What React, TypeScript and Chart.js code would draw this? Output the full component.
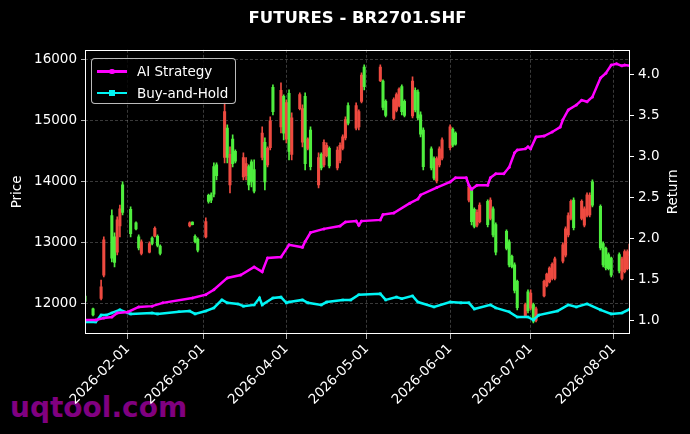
import React, { useEffect, useRef } from 'react';
import { Chart, registerables } from 'chart.js';

Chart.register(...registerables);

const TITLE = 'FUTURES - BR2701.SHF';
const STRATEGY_LABEL = 'AI Strategy';
const HOLD_LABEL = 'Buy-and-Hold';
const PRICE_TITLE = 'Price';
const RETURN_TITLE = 'Return';
const WATERMARK = 'uqtool.com';

// Candles
const candleDates = [
  '2026-01-16', '2026-01-19', '2026-01-22', '2026-01-23', '2026-01-26', '2026-01-27', '2026-01-28', '2026-01-29', '2026-01-30',
  '2026-02-02', '2026-02-04', '2026-02-05', '2026-02-06', '2026-02-09', '2026-02-10', '2026-02-11', '2026-02-12', '2026-02-13',
  '2026-02-24', '2026-02-25', '2026-02-26', '2026-02-27',
  '2026-03-02', '2026-03-03', '2026-03-04', '2026-03-05', '2026-03-06', '2026-03-09', '2026-03-10', '2026-03-11', '2026-03-12', '2026-03-13',
  '2026-03-16', '2026-03-17', '2026-03-18', '2026-03-19', '2026-03-20', '2026-03-23', '2026-03-24', '2026-03-25', '2026-03-26', '2026-03-27',
  '2026-03-30', '2026-03-31', '2026-04-01', '2026-04-02', '2026-04-03', '2026-04-06', '2026-04-07', '2026-04-08', '2026-04-09', '2026-04-10',
  '2026-04-13', '2026-04-14', '2026-04-15', '2026-04-16', '2026-04-17', '2026-04-20', '2026-04-21', '2026-04-22', '2026-04-23', '2026-04-24',
  '2026-04-27', '2026-04-28', '2026-04-29', '2026-04-30', '2026-05-06', '2026-05-07', '2026-05-08',
  '2026-05-11', '2026-05-12', '2026-05-13', '2026-05-14', '2026-05-15', '2026-05-18', '2026-05-19', '2026-05-20', '2026-05-21', '2026-05-22',
  '2026-05-25', '2026-05-26', '2026-05-27', '2026-05-28', '2026-05-29', '2026-06-01', '2026-06-02', '2026-06-03',
  '2026-06-08', '2026-06-09', '2026-06-10', '2026-06-11', '2026-06-12', '2026-06-15', '2026-06-16', '2026-06-17', '2026-06-18',
  '2026-06-22', '2026-06-23', '2026-06-24', '2026-06-25', '2026-06-26', '2026-06-29', '2026-06-30', '2026-07-01', '2026-07-02', '2026-07-03',
  '2026-07-06', '2026-07-07', '2026-07-08', '2026-07-09', '2026-07-10', '2026-07-13', '2026-07-14', '2026-07-15', '2026-07-16', '2026-07-17',
  '2026-07-20', '2026-07-21', '2026-07-22', '2026-07-23', '2026-07-24', '2026-07-27', '2026-07-28', '2026-07-29', '2026-07-30', '2026-07-31',
  '2026-08-03', '2026-08-04', '2026-08-05', '2026-08-06', '2026-08-07',
];
const candleOpen = [
  12130, 11920, 12090, 12470, 13450, 13100, 12850, 13280, 13950,
  13550, 13330, 13100, 12830, 12850, 13080, 13110, 13110, 12950,
  13280, 13340, 13110, 13060,
  13100, 13780, 13790, 14250, 14280, 14400, 14880, 13950, 14700, 14500,
  14080, 14100, 14250, 14330, 14200, 14400, 14650, 14280, 14560, 15550,
  14900, 15400, 14700, 15450, 14450, 15200, 14650, 15400, 14550, 14850,
  13950, 14450, 14280, 14430, 14550, 14230, 14350, 14550, 14720, 15250,
  14880, 14900, 15320, 15880, 15660, 15650, 15320,
  15040, 15170, 15250, 15560, 15320, 15080, 15500, 15470, 15100, 14850,
  14540, 14380, 14020, 14280, 14390, 14560, 14860, 14800,
  13700, 13870, 13550, 13290, 13350, 13680, 13400, 13560, 13300,
  13190, 13020, 12780, 12640, 12370, 11800, 12200, 11930, 11990, 11730,
  12130, 12300, 12360, 12420, 12420, 12700, 12800, 13130, 13400, 13700,
  13400, 13290, 13450, 13460, 14000, 13600, 12990, 12910, 12810, 12750,
  12810, 12420, 12530, 12580, 12790,
];
const candleHigh = [
  12148, 11934, 12393, 13100, 13541, 13164, 13426, 13620, 14000,
  13590, 13344, 13131, 13049, 13016, 13098, 13262, 13131, 12967,
  13344, 13344, 13131, 13082,
  13410, 13800, 13820, 14311, 14311, 15295, 14934, 14574, 14770, 14525,
  14475, 14400, 14279, 14361, 14361, 14902, 14721, 14574, 15066, 15590,
  15623, 15426, 15344, 15508, 15131, 15459, 15262, 15459, 14721, 14902,
  14475, 14475, 14689, 14639, 14574, 14574, 14639, 14770, 15066, 15295,
  15295, 15180, 15787, 15918, 15918, 15672, 15344,
  15377, 15459, 15541, 15590, 15344, 15721, 15541, 15508, 15148, 14885,
  14574, 14410, 14410, 14574, 14721, 14934, 14885, 14820,
  13951, 13902, 13574, 13541, 13656, 13705, 13738, 13590, 13328,
  13213, 13049, 12800, 12672, 12393, 12016, 12230, 12230, 12016, 11951,
  12393, 12508, 12607, 12672, 12770, 13000, 13262, 13492, 13705, 13738,
  13705, 13590, 13820, 13820, 14033, 13623, 13016, 12934, 12836, 12770,
  12836, 12770, 12885, 12885, 13000,
];
const candleLow = [
  12016, 11803, 12066, 12443, 12688, 12607, 12803, 13100, 13459,
  13098, 13213, 12885, 12803, 12836, 12967, 13098, 12934, 12803,
  13262, 13295, 13000, 12852,
  13082, 13650, 13660, 13754, 14033, 14311, 14311, 13820, 14246, 14311,
  14033, 14033, 13869, 13918, 13820, 14361, 13869, 14246, 14525, 15098,
  14803, 14689, 14639, 14361, 14361, 15180, 14574, 14197, 14525, 14197,
  13902, 14197, 14246, 14410, 14230, 14197, 14311, 14525, 14689, 14934,
  14852, 14852, 15295, 15508, 15640, 15180, 15066,
  15016, 15148, 15230, 15098, 15066, 15049, 15148, 15016, 14738, 14197,
  14197, 14033, 13984, 14246, 14361, 14525, 14574, 14600,
  13672, 13295, 13246, 13262, 13328, 13262, 13377, 13098, 12803,
  12885, 12607, 12590, 12180, 11902, 11787, 11852, 11902, 11689, 11705,
  12115, 12279, 12344, 12393, 12393, 12672, 12770, 13098, 13377, 13213,
  13377, 13262, 13426, 13426, 13590, 12885, 12607, 12557, 12557, 12443,
  12508, 12393, 12508, 12557, 12770,
];
const candleClose = [
  12040, 11820, 12280, 13050, 12750, 12680, 13380, 13560, 13500,
  13150, 13230, 12920, 13020, 12990, 12990, 13240, 12960, 12830,
  13330, 13300, 13020, 12880,
  13350, 13680, 13700, 13800, 14100, 15150, 14400, 14450, 14300, 14340,
  14400, 14300, 13950, 14000, 13850, 14800, 14000, 14550, 15000, 15150,
  15500, 14800, 15300, 14500, 15050, 15430, 15200, 14300, 14700, 14250,
  14400, 14230, 14650, 14600, 14260, 14520, 14600, 14740, 15020, 14960,
  15250, 15150, 15750, 15560, 15880, 15220, 15090,
  15350, 15430, 15520, 15150, 15090, 15650, 15180, 15050, 14780, 14250,
  14230, 14060, 14380, 14540, 14690, 14900, 14600, 14620,
  13920, 13350, 13270, 13500, 13620, 13300, 13700, 13130, 12850,
  12910, 12640, 12610, 12220, 11940, 11990, 11890, 12180, 11720, 11920,
  12370, 12490, 12590, 12650, 12740, 12970, 13230, 13450, 13680, 13250,
  13680, 13560, 13790, 13780, 13620, 12920, 12640, 12590, 12580, 12470,
  12540, 12740, 12860, 12860, 12980,
];

// Return lines
const strategyDates = [
  '2026-01-16', '2026-01-20', '2026-01-23', '2026-01-26', '2026-01-28', '2026-02-01', '2026-02-05', '2026-02-10', '2026-02-14',
  '2026-02-25', '2026-03-02', '2026-03-05', '2026-03-10', '2026-03-15', '2026-03-20', '2026-03-23', '2026-03-25', '2026-03-30',
  '2026-04-02', '2026-04-07', '2026-04-08', '2026-04-10', '2026-04-15', '2026-04-21', '2026-04-23', '2026-04-27', '2026-04-28',
  '2026-04-29', '2026-05-06', '2026-05-07', '2026-05-11', '2026-05-17', '2026-05-20', '2026-05-21', '2026-05-27', '2026-06-01',
  '2026-06-03', '2026-06-07', '2026-06-08', '2026-06-09', '2026-06-11', '2026-06-15', '2026-06-16', '2026-06-18', '2026-06-21',
  '2026-06-23', '2026-06-25', '2026-06-26', '2026-06-29', '2026-06-30', '2026-07-01', '2026-07-03', '2026-07-06', '2026-07-09',
  '2026-07-12', '2026-07-13', '2026-07-15', '2026-07-18', '2026-07-20', '2026-07-22', '2026-07-24', '2026-07-27', '2026-07-29',
  '2026-07-31', '2026-08-02', '2026-08-04', '2026-08-05', '2026-08-07',
];
const strategyReturn = [
  1.0, 1.0, 1.025, 1.037, 1.087, 1.099, 1.16, 1.17, 1.21,
  1.27, 1.31, 1.37, 1.515, 1.55, 1.65, 1.59, 1.76, 1.77,
  1.92, 1.89, 1.96, 2.07, 2.115, 2.15, 2.2, 2.21, 2.16,
  2.21, 2.225, 2.29, 2.31, 2.43, 2.48, 2.53, 2.62, 2.69,
  2.74, 2.74, 2.65, 2.6, 2.65, 2.65, 2.74, 2.79, 2.79,
  2.87, 3.045, 3.08, 3.094, 3.12, 3.094, 3.24, 3.25, 3.3,
  3.36, 3.45, 3.57, 3.63, 3.69, 3.67, 3.73, 3.96, 4.02,
  4.12, 4.135, 4.11, 4.12, 4.11,
];
const holdDates = [
  '2026-01-16', '2026-01-20', '2026-01-22', '2026-01-24', '2026-01-26', '2026-01-29', '2026-02-01', '2026-02-02', '2026-02-10',
  '2026-02-12', '2026-02-20', '2026-02-24', '2026-02-26', '2026-03-02', '2026-03-05', '2026-03-08', '2026-03-10', '2026-03-14',
  '2026-03-16', '2026-03-20', '2026-03-22', '2026-03-23', '2026-03-27', '2026-03-30', '2026-04-01', '2026-04-02', '2026-04-07',
  '2026-04-09', '2026-04-14', '2026-04-16', '2026-04-22', '2026-04-25', '2026-04-28', '2026-05-06', '2026-05-08', '2026-05-12',
  '2026-05-14', '2026-05-18', '2026-05-20', '2026-05-26', '2026-06-01', '2026-06-05', '2026-06-08', '2026-06-10', '2026-06-16',
  '2026-06-18', '2026-06-23', '2026-06-26', '2026-06-30', '2026-07-02', '2026-07-04', '2026-07-11', '2026-07-15', '2026-07-18',
  '2026-07-22', '2026-07-27', '2026-07-31', '2026-08-04', '2026-08-07',
];
const holdReturn = [
  0.976, 0.976, 1.06, 1.06, 1.087, 1.124, 1.087, 1.075, 1.087,
  1.075, 1.1, 1.11, 1.075, 1.11, 1.148, 1.246, 1.21, 1.197,
  1.17, 1.185, 1.27, 1.185, 1.27, 1.28, 1.21, 1.22, 1.246,
  1.21, 1.185, 1.22, 1.246, 1.246, 1.31, 1.32, 1.246, 1.28,
  1.26, 1.295, 1.22, 1.16, 1.22, 1.21, 1.21, 1.135, 1.185,
  1.148, 1.1, 1.037, 1.037, 1.0, 1.06, 1.11, 1.185, 1.16,
  1.197, 1.124, 1.075, 1.087, 1.135,
];

// Axes
const xTickDates = ['2026-02-01', '2026-03-01', '2026-04-01', '2026-05-01', '2026-06-01', '2026-07-01', '2026-08-01'];
const xRange = ['2026-01-16', '2026-08-07'];
const priceTicks = [12000, 13000, 14000, 15000, 16000];
const priceRange = [11508, 16164];
const returnTicks = [1.0, 1.5, 2.0, 2.5, 3.0, 3.5, 4.0];
const returnRange = [0.829, 4.306];

const FONT = 'DejaVu Sans';
const RED = '#ee4a40';
const GREEN = '#4fee3e';
const MAGENTA = '#ff00ff';
const CYAN = '#00f5f5';
const GRID = 'rgba(150,150,150,0.55)';

const DAY = 86400000;
const BASE = Date.UTC(2026, 0, 1);
const toDay = (s: string) => (Date.parse(s + 'T00:00:00Z') - BASE) / DAY;
const fromDay = (d: number) => new Date(BASE + Math.round(d) * DAY).toISOString().slice(0, 10);

const framePlugin = {
  id: 'frame',
  afterDraw(chart: any) {
    const { ctx, chartArea } = chart;
    ctx.save();
    ctx.strokeStyle = '#ffffff';
    ctx.lineWidth = 1;
    ctx.strokeRect(
      Math.round(chartArea.left) + 0.5,
      Math.round(chartArea.top) + 0.5,
      Math.round(chartArea.right - chartArea.left) - 1,
      Math.round(chartArea.bottom - chartArea.top) - 1,
    );
    // right axis title, reading bottom-to-top like the left one
    const yc = (chartArea.top + chartArea.bottom) / 2;
    ctx.translate(chart.width - 17, yc);
    ctx.rotate(-Math.PI / 2);
    ctx.fillStyle = '#ffffff';
    ctx.font = `13.5px "${FONT}"`;
    ctx.textAlign = 'center';
    ctx.textBaseline = 'middle';
    ctx.fillText(RETURN_TITLE, 0, 0);
    ctx.restore();
  },
};

export default function App() {
  const canvasRef = useRef<HTMLCanvasElement>(null);

  useEffect(() => {
    document.body.style.margin = '0';
    document.body.style.background = '#000';
    const canvas = canvasRef.current;
    if (!canvas) return;
    const xs = candleDates.map(toDay);
    const colors = candleOpen.map((o, i) => (candleClose[i] >= o ? RED : GREEN));
    const chart = new Chart(canvas, {
      type: 'bar',
      data: {
        datasets: [
          {
            type: 'line',
            label: STRATEGY_LABEL,
            data: strategyDates.map((d, i) => ({ x: toDay(d), y: strategyReturn[i] })),
            yAxisID: 'y2',
            borderColor: MAGENTA,
            backgroundColor: MAGENTA,
            borderWidth: 2.5,
            pointRadius: 1.5,
            pointStyle: 'circle',
            pointBorderWidth: 0,
            tension: 0,
            order: 0,
          } as any,
          {
            type: 'line',
            label: HOLD_LABEL,
            data: holdDates.map((d, i) => ({ x: toDay(d), y: holdReturn[i] })),
            yAxisID: 'y2',
            borderColor: CYAN,
            backgroundColor: CYAN,
            borderWidth: 2.5,
            pointRadius: 1.8,
            pointStyle: 'rect',
            pointBorderWidth: 0,
            tension: 0,
            order: 1,
          } as any,
          {
            type: 'bar',
            label: 'body',
            data: xs.map((x, i) => ({ x, y: [candleOpen[i], candleClose[i]] })),
            backgroundColor: colors,
            borderWidth: 0,
            barThickness: 2.4,
            grouped: false,
            yAxisID: 'y',
            order: 2,
          } as any,
          {
            type: 'bar',
            label: 'wick',
            data: xs.map((x, i) => ({ x, y: [candleLow[i], candleHigh[i]] })),
            backgroundColor: colors,
            borderWidth: 0,
            barThickness: 1,
            grouped: false,
            yAxisID: 'y',
            order: 3,
          } as any,
        ],
      },
      options: {
        animation: false,
        responsive: false,
        maintainAspectRatio: false,
        layout: { padding: 0 },
        plugins: {
          legend: { display: false },
          tooltip: { enabled: false },
          title: {
            display: true,
            text: TITLE,
            color: '#ffffff',
            fullSize: false,
            font: { family: FONT, size: 16.5, weight: 'bold' },
            padding: { top: 8.5, bottom: 21.5 },
          },
        },
        scales: {
          x: {
            type: 'linear',
            min: toDay(xRange[0]),
            max: toDay(xRange[1]),
            offset: false,
            afterBuildTicks: (s: any) => {
              s.ticks = xTickDates.map((d) => ({ value: toDay(d) }));
            },
            afterFit: (s: any) => {
              s.height = 100;
            },
            ticks: {
              color: '#ffffff',
              font: { family: FONT, size: 13.5 },
              maxRotation: 45,
              minRotation: 45,
              autoSkip: false,
              padding: 2,
              callback: (v: any) => fromDay(Number(v)),
            },
            grid: { color: GRID, lineWidth: 0.7, tickColor: '#ffffff', tickLength: 5, offset: false },
            border: { display: false, dash: [3, 2] },
          },
          y: {
            type: 'linear',
            position: 'left',
            min: priceRange[0],
            max: priceRange[1],
            afterBuildTicks: (s: any) => {
              s.ticks = priceTicks.map((v) => ({ value: v }));
            },
            afterFit: (s: any) => {
              s.width = 85;
            },
            ticks: {
              color: '#ffffff',
              font: { family: FONT, size: 13.5 },
              padding: 4,
              callback: (v: any) => String(v),
            },
            grid: { color: GRID, lineWidth: 0.7, tickColor: '#ffffff', tickLength: 4 },
            border: { display: false, dash: [3, 2] },
            title: {
              display: true,
              text: PRICE_TITLE,
              color: '#ffffff',
              font: { family: FONT, size: 13.5 },
              padding: { top: 9, bottom: 0 },
            },
          },
          y2: {
            type: 'linear',
            position: 'right',
            min: returnRange[0],
            max: returnRange[1],
            afterBuildTicks: (s: any) => {
              s.ticks = returnTicks.map((v) => ({ value: v }));
            },
            afterFit: (s: any) => {
              s.width = 60;
            },
            ticks: {
              color: '#ffffff',
              font: { family: FONT, size: 13.5 },
              padding: 4,
              callback: (v: any) => Number(v).toFixed(1),
            },
            grid: { drawOnChartArea: false, tickColor: '#ffffff', tickLength: 4 },
            border: { display: false },
            title: { display: false },
          },
        },
      } as any,
      plugins: [framePlugin],
    });
    return () => chart.destroy();
  }, []);

  const legendItems = [
    { label: STRATEGY_LABEL, color: MAGENTA, square: false },
    { label: HOLD_LABEL, color: CYAN, square: true },
  ];

  return (
    <div style={{ position: 'relative', width: 690, height: 434, background: '#000', overflow: 'hidden' }}>
      <div
        style={{
          position: 'absolute',
          left: 10,
          top: 394,
          fontFamily: FONT,
          fontWeight: 'bold',
          fontSize: 28,
          lineHeight: '28px',
          color: '#800080',
          whiteSpace: 'nowrap',
        }}
      >
        {WATERMARK}
      </div>
      <canvas ref={canvasRef} width={690} height={434} style={{ position: 'absolute', left: 0, top: 0, width: 690, height: 434 }} />
      <div
        style={{
          position: 'absolute',
          left: 91,
          top: 58,
          width: 145,
          height: 46,
          boxSizing: 'border-box',
          border: '1px solid rgba(220,220,220,0.85)',
          borderRadius: 4,
          background: 'rgba(0,0,0,0.8)',
          fontFamily: FONT,
          fontSize: 13.5,
          color: '#ffffff',
        }}
      >
        {legendItems.map((it, i) => (
          <div key={it.label} style={{ position: 'absolute', left: 0, top: 12 + i * 21.7 - 10, height: 20, width: 143 }}>
            <div style={{ position: 'absolute', left: 5, top: 9, width: 30, height: 2.5, background: it.color }} />
            <div
              style={{
                position: 'absolute',
                left: 17,
                top: 7.5,
                width: 5.5,
                height: 5.5,
                background: it.color,
                borderRadius: it.square ? 0 : '50%',
              }}
            />
            <div style={{ position: 'absolute', left: 45, top: 1, lineHeight: '18px', whiteSpace: 'nowrap' }}>{it.label}</div>
          </div>
        ))}
      </div>
    </div>
  );
}
